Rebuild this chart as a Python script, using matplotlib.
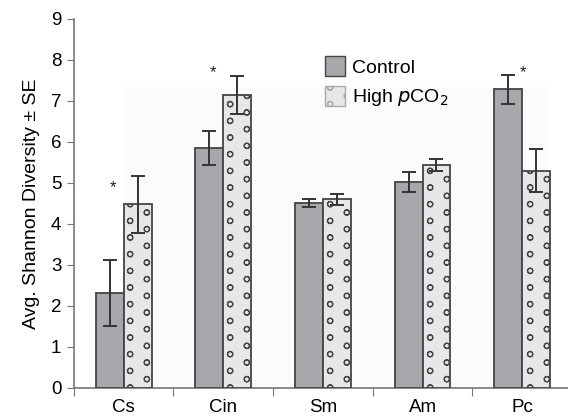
import matplotlib
matplotlib.use("Agg")
import matplotlib.pyplot as plt
import matplotlib.hatch as mhatch
from matplotlib.path import Path
import numpy as np
from matplotlib.patches import Patch, Rectangle

categories = ["Cs", "Cin", "Sm", "Am", "Pc"]
control = [2.31, 5.85, 4.51, 5.02, 7.28]
control_err = [0.81, 0.42, 0.09, 0.25, 0.35]
high = [4.48, 7.15, 4.60, 5.43, 5.30]
high_err = [0.69, 0.46, 0.13, 0.15, 0.53]
star_groups = [0, 1, 4]
star_offsets = [-0.11, -0.1, 0.01]
star_heights = [4.88, 7.7, 7.7]


class LatticeCircles(mhatch.HatchPatternBase):
    ncol = 6
    nrow = 6
    radius = 0.028
    xshift = 0.135

    def __init__(self, hatch, density):
        circ = Path.unit_circle()
        self.cv = np.concatenate([circ.vertices, circ.vertices[::-1] * 0.85])
        self.cc = np.concatenate([circ.codes, circ.codes])
        on = hatch.count('o') > 0
        self.num_vertices = len(self.cv) * self.ncol * self.nrow if on else 0

    def set_vertices_and_codes(self, vertices, codes):
        k = len(self.cv)
        idx = 0
        for i in range(self.ncol):
            for j in range(self.nrow):
                cx = i / self.ncol + self.xshift
                cy = (j + 0.25 + 0.5 * (i % 2)) / self.nrow
                vertices[idx:idx + k] = self.cv * self.radius + [cx, cy]
                codes[idx:idx + k] = self.cc
                idx += k


mhatch._hatch_types[mhatch._hatch_types.index(mhatch.SmallCircles)] = LatticeCircles

plt.rcParams['font.family'] = ['Liberation Sans', 'DejaVu Sans']
plt.rcParams['hatch.color'] = '#959595'
plt.rcParams['hatch.linewidth'] = 0.8

fig = plt.figure(figsize=(5.68, 4.19), dpi=100)
ax = fig.add_axes([0.130, 0.074, 0.870, 0.881])

ax.add_patch(Rectangle((0.0, 0), 4.26, 7.34, facecolor='#fbfbfb', edgecolor='none', zorder=0))

x = np.arange(len(categories))
w = 0.28
ek = dict(ecolor='#333333', elinewidth=1.4, capsize=5, capthick=1.4)
ax.bar(x - w/2, control, w, yerr=control_err, color='#a8a8ac', edgecolor='#444444',
       linewidth=1.3, error_kw=ek, zorder=3)
ax.bar(x + w/2, high, w, yerr=high_err, color='#e7e7e9', edgecolor='#444444',
       linewidth=1.3, hatch='o', error_kw=ek, zorder=3)

for g, off, h in zip(star_groups, star_offsets, star_heights):
    ax.text(g + off, h, '*', ha='center', va='center', fontsize=12, color='#222222')

ax.set_xlim(-0.5, 4.46)
ax.set_ylim(0, 9)
ax.set_yticks(range(0, 10))
ax.set_xticks(np.arange(-0.5, 4.5, 1.0))
ax.set_xticklabels([])
ax.set_xticks(x, minor=True)
ax.set_xticklabels(categories, minor=True)
ax.tick_params(axis='x', which='minor', length=0, pad=8, labelsize=13.5)
ax.tick_params(axis='x', which='major', length=6, color='#777777', direction='out')
ax.tick_params(axis='y', length=5, color='#777777', labelsize=13.5, pad=4)
for s in ['top', 'right']:
    ax.spines[s].set_visible(False)
for s in ['left', 'bottom']:
    ax.spines[s].set_color('#777777')
    ax.spines[s].set_linewidth(1.2)
ax.set_ylabel('Avg. Shannon Diversity ± SE', fontsize=14, labelpad=8)

handles = [Patch(facecolor='#a8a8ac', edgecolor='#444444', linewidth=1.0, label='Control'),
           Patch(facecolor='#e7e7e9', edgecolor='#aaaaaa', linewidth=1.0, hatch='o',
                 label='High $\\it{p}$CO$_2$')]
leg = ax.legend(handles=handles, loc='upper left', bbox_to_anchor=(0.485, 0.93),
                frameon=False, fontsize=14, handlelength=1.0, handleheight=1.2,
                handletextpad=0.4, labelspacing=0.45, borderaxespad=0.2)

fig.savefig('out.png', dpi=100)
